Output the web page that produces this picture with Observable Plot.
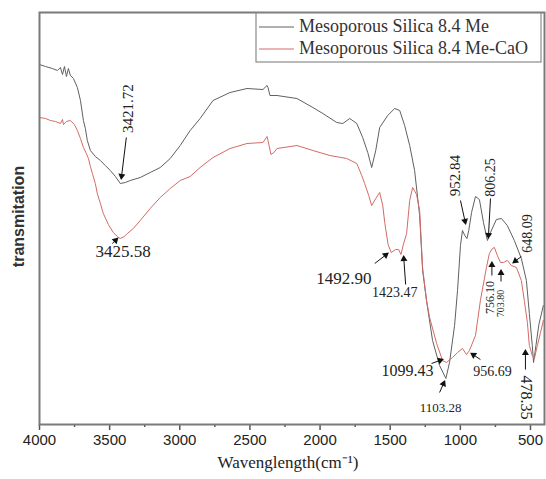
<!DOCTYPE html>
<html><head><meta charset="utf-8">
<script src="https://cdn.jsdelivr.net/npm/d3@7"></script>
<script src="https://cdn.jsdelivr.net/npm/@observablehq/plot@0.6"></script>
<style>body{margin:0;background:#fff}#chart{width:546px;height:479px}</style>
</head><body><div id="chart"></div>
<script>
const seriesNames = ["Mesoporous Silica 8.4 Me", "Mesoporous Silica 8.4 Me-CaO"];
const seriesColors = ["#606060", "#d46a66"];

// Mesoporous Silica 8.4 Me (wavenumber cm-1, transmittance a.u.)
const meWn = [4000,3957,3908,3872,3851,3836,3822,3808,3794,3780,3758,3730,3708,3687,3673,3659,3637,3602,3566,3531,3495,3459,3424,3388,3353,3282,3211,3139,3068,2997,2926,2855,2763,2642,2521,2407,2378,2371,2357,2307,2165,2051,1980,1881,1838,1788,1738,1696,1660,1632,1603,1575,1518,1468,1432,1397,1361,1326,1290,1269,1241,1198,1148,1103,1077,1041,1020,999,985,968,953,940,920,892,864,835,807,785,743,707,665,615,565,529,508,487,478,460,440,408];
const meT  = [360,358,356,354,357,350,358,348,356,349,346,337,324,304,296,284,274,268,264,259,254,248,241,242,244,247,252,257,266,279,294,306,324,332,336,335,339,337,329,329,326,317,311,302,301,306,301,287,272,257,274,297,309,316,314,299,279,254,209,154,124,84,59,46,62,99,134,179,194,189,186,194,212,228,225,202,184,192,205,206,199,184,166,144,111,79,62,80,100,119];

// Mesoporous Silica 8.4 Me-CaO
const caoWn = [4000,3957,3922,3886,3851,3836,3829,3808,3780,3751,3730,3708,3687,3666,3651,3637,3623,3602,3588,3566,3545,3509,3474,3445,3426,3395,3374,3331,3282,3211,3139,3068,2997,2926,2855,2763,2642,2521,2407,2378,2371,2350,2329,2307,2165,2051,1930,1810,1738,1703,1682,1653,1632,1603,1575,1553,1539,1515,1493,1461,1440,1423,1408,1383,1361,1340,1312,1290,1269,1241,1219,1169,1127,1099,1056,1020,985,956,935,892,857,814,793,771,757,736,714,693,665,636,600,565,544,522,508,487,472,451,430,408];
const caoT  = [307,306,304,303,301,305,300,303,304,300,294,286,277,271,266,258,251,241,231,221,211,200,192,188,186,188,191,196,204,216,227,236,244,248,257,267,276,281,282,288,284,270,272,276,279,274,269,266,261,249,241,229,219,226,232,219,202,180,172,175,175,170,179,191,224,237,230,214,157,124,107,81,64,62,67,72,76,70,74,89,124,157,171,176,177,169,162,162,164,159,157,144,124,102,79,69,66,79,91,104];

const xTicks = [4000,3500,3000,2500,2000,1500,1000,500];
const xMinorTicks = [3750,3250,2750,2250,1750,1250,750];
const xTitle = "Wavenglength(cm\u207B\u00B9)";
const yTitle = "transmitation";

// peak annotations
const annText   = ["3421.72","3425.58","1492.90","1423.47","1099.43","1103.28","956.69","952.84","806.25","756.10","703.80","648.09","478.35"];
const annWn     = [3367,3403,1831,1468,1376,1141,771,1034,785,785,714,522,529];
const annT      = [316,173,146,132,54,17,53,249,247,127,121,191,27];
const annRotate = [-90,0,0,0,0,0,0,-90,-90,-90,-90,-90,90];
const annSize   = [15,17,17,14,16,13,14,15,14,12,10,14,16];
const arrWn1 = [3381,3481,1610,1390,1205,1148,857,999,785,775,710,565,536];
const arrT1  = [287,181,161,140,61,32,65,224,226,149,143,168,55];
const arrWn2 = [3417,3445,1518,1404,1127,1113,921,963,800,775,710,622,536];
const arrT2  = [246,186,171,168,65,43,71,201,187,162,154,162,74];

const W = 546, H = 479, mL = 39, mR = 2, mT = 12, mB = 55;
const xDomain = [4000, 400], yDomain = [0, 412];
const xs = d3.scaleLinear(xDomain, [mL, W - mR]);
const ys = d3.scaleLinear(yDomain, [H - mB, mT]);

const me = meWn.map((w, i) => ({wn: w, t: meT[i]}));
const cao = caoWn.map((w, i) => ({wn: w, t: caoT[i]}));
const anns = annText.map((s, i) => ({s, wn: annWn[i], t: annT[i], rot: annRotate[i], size: annSize[i]}));
const arrows = arrWn1.map((w, i) => {
  const px1 = xs(w), py1 = ys(arrT1[i]), px2 = xs(arrWn2[i]), py2 = ys(arrT2[i]);
  const len = Math.hypot(px2 - px1, py2 - py1) || 1;
  const ux = (px2 - px1) / len, uy = (py2 - py1) / len;
  return {wn1: w, t1: arrT1[i], wn2: arrWn2[i], t2: arrT2[i],
          hwn: xs.invert(px2 - ux * 2.5), ht: ys.invert(py2 - uy * 2.5),
          rot: Math.atan2(ux, -uy) * 180 / Math.PI};
});

const serif = "'Liberation Serif','Times New Roman',serif";
const sans = "'Liberation Sans',Arial,sans-serif";

const chart = Plot.plot({
  width: W, height: H,
  marginLeft: mL, marginRight: mR, marginTop: mT, marginBottom: mB,
  style: {background: "#fff", color: "#222", fontFamily: sans},
  x: {domain: xDomain, axis: null},
  y: {domain: yDomain, axis: null},
  marks: [
    Plot.line(me, {x: "wn", y: "t", stroke: seriesColors[0], strokeWidth: 1}),
    Plot.line(cao, {x: "wn", y: "t", stroke: seriesColors[1], strokeWidth: 1}),
    Plot.link(arrows, {x1: "wn1", y1: "t1", x2: "wn2", y2: "t2", stroke: "#111", strokeWidth: 1}),
    Plot.dot(arrows, {x: "hwn", y: "ht", symbol: "triangle", r: 2.6, fill: "#111", stroke: "none", rotate: "rot"}),
    Plot.text(anns, {x: "wn", y: "t", text: "s", rotate: "rot", fontSize: "size", fontFamily: serif, fill: "#222"}),
    Plot.axisX({ticks: xTicks, tickSize: 6, tickPadding: 4, tickFormat: d => String(d), label: null, fontSize: 15, fontFamily: sans, stroke: "#555", strokeWidth: 1.5}),
    Plot.axisX({ticks: xMinorTicks, tickSize: 3, tickFormat: () => "", label: null, stroke: "#555", strokeWidth: 1.5}),
    Plot.text([xTitle], {frameAnchor: "bottom", dy: 43, dx: -4, fontSize: 17, fontFamily: serif, fill: "#222"}),
    Plot.text([yTitle], {frameAnchor: "left", textAnchor: "middle", dx: -21, dy: -2, rotate: -90, fontSize: 16, fontWeight: "bold", fontFamily: sans, fill: "#333"}),
    Plot.frame({stroke: "#7a7a7a", strokeWidth: 2})
  ]
});

// legend box in the top-right corner
const svg = d3.select(chart);
const lg = svg.append("g").attr("text-anchor", "start");
lg.append("rect").attr("x", 256).attr("y", 13).attr("width", 285).attr("height", 49)
  .attr("fill", "#fff").attr("stroke", "#8a8a8a").attr("stroke-width", 1.2);
seriesNames.forEach((name, i) => {
  const yy = 27 + i * 22;
  lg.append("line").attr("x1", 259).attr("x2", 294).attr("y1", yy).attr("y2", yy)
    .attr("stroke", seriesColors[i]).attr("stroke-width", 1);
  lg.append("text").attr("x", 299).attr("y", yy + 1).attr("dominant-baseline", "middle")
    .attr("text-anchor", "start")
    .attr("font-family", serif).attr("font-size", 18).attr("fill", "#333").text(name);
});
document.getElementById("chart").appendChild(chart);
</script>
</body></html>
